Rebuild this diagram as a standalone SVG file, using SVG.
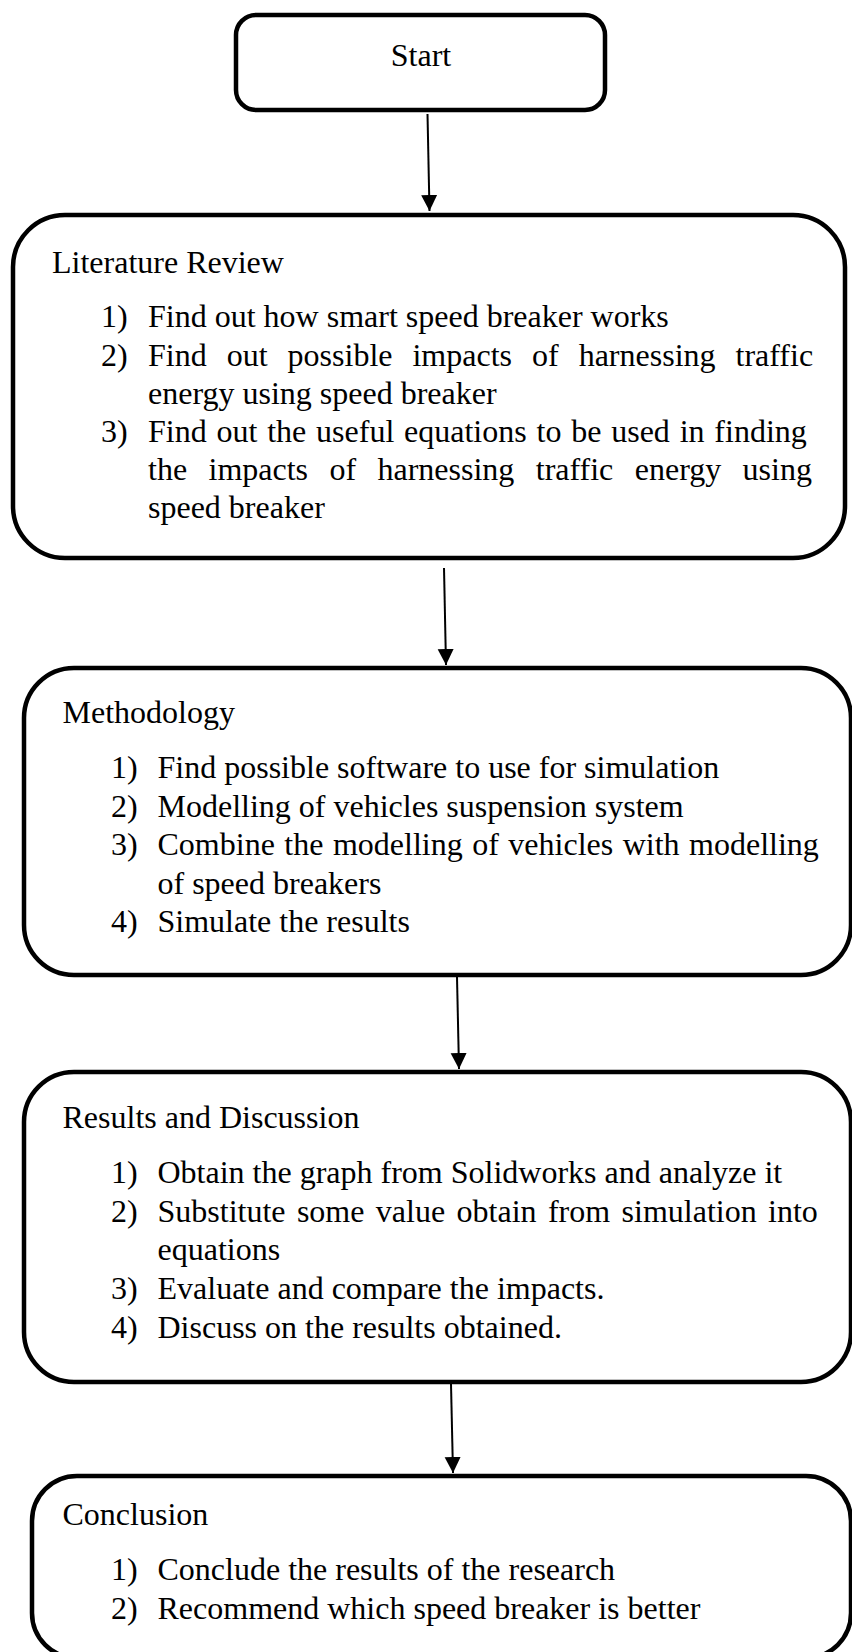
<svg xmlns="http://www.w3.org/2000/svg" width="852" height="1652" viewBox="0 0 852 1652">
<style>
.box{fill:#fff;stroke:#000;stroke-width:4.5}
.t{font-family:"Liberation Serif","Times New Roman",serif;font-size:32px;fill:#000}
.c{stroke:#000;stroke-width:2;fill:none}
</style>
<defs>
<marker id="ah" markerUnits="userSpaceOnUse" markerWidth="20" markerHeight="20" refX="16" refY="8" orient="auto">
<path d="M0,0 L16,8 L0,16 Z" fill="#000"/>
</marker>
</defs>
<rect width="852" height="1652" fill="#fff"/>
<g id="connectors">
<line class="c" x1="427.5" y1="114" x2="429.5" y2="211" marker-end="url(#ah)"/>
<line class="c" x1="444" y1="568" x2="446" y2="665" marker-end="url(#ah)"/>
<line class="c" x1="457" y1="977" x2="459" y2="1069" marker-end="url(#ah)"/>
<line class="c" x1="451" y1="1384" x2="453" y2="1473" marker-end="url(#ah)"/>
</g>
<g id="start">
<rect class="box" x="236" y="15" width="369" height="95" rx="20"/>
<text class="t" x="421" y="65.5" text-anchor="middle">Start</text>
</g>
<g id="literature">
<rect class="box" x="13" y="215" width="832" height="343" rx="52"/>
<text class="t" x="52" y="273">Literature Review</text>
<text class="t" x="101" y="326.5">1)</text>
<text class="t" x="148" y="326.5">Find out how smart speed breaker works</text>
<text class="t" x="101" y="365.5">2)</text>
<text class="t" x="148" y="365.5" word-spacing="12">Find out possible impacts of harnessing traffic</text>
<text class="t" x="148" y="404">energy using speed breaker</text>
<text class="t" x="101" y="442">3)</text>
<text class="t" x="148" y="442" word-spacing="1.8">Find out the useful equations to be used in finding</text>
<text class="t" x="148" y="480" word-spacing="13.4">the impacts of harnessing traffic energy using</text>
<text class="t" x="148" y="518">speed breaker</text>
</g>
<g id="methodology">
<rect class="box" x="24" y="668" width="827" height="307" rx="50"/>
<text class="t" x="62.5" y="723">Methodology</text>
<text class="t" x="111" y="778">1)</text>
<text class="t" x="157.5" y="778">Find possible software to use for simulation</text>
<text class="t" x="111" y="817">2)</text>
<text class="t" x="157.5" y="817">Modelling of vehicles suspension system</text>
<text class="t" x="111" y="855">3)</text>
<text class="t" x="157.5" y="855" word-spacing="1.5">Combine the modelling of vehicles with modelling</text>
<text class="t" x="157.5" y="893.5">of speed breakers</text>
<text class="t" x="111" y="932">4)</text>
<text class="t" x="157.5" y="932">Simulate the results</text>
</g>
<g id="results">
<rect class="box" x="24" y="1072" width="827" height="310" rx="50"/>
<text class="t" x="62.5" y="1128">Results and Discussion</text>
<text class="t" x="111" y="1183">1)</text>
<text class="t" x="157.5" y="1183">Obtain the graph from Solidworks and analyze it</text>
<text class="t" x="111" y="1222">2)</text>
<text class="t" x="157.5" y="1222" word-spacing="3.4">Substitute some value obtain from simulation into</text>
<text class="t" x="157.5" y="1260">equations</text>
<text class="t" x="111" y="1299">3)</text>
<text class="t" x="157.5" y="1299">Evaluate and compare the impacts.</text>
<text class="t" x="111" y="1337.5">4)</text>
<text class="t" x="157.5" y="1337.5">Discuss on the results obtained.</text>
</g>
<g id="conclusion">
<rect class="box" x="32" y="1476" width="819" height="182" rx="45"/>
<text class="t" x="62.5" y="1525">Conclusion</text>
<text class="t" x="111" y="1580">1)</text>
<text class="t" x="157.5" y="1580">Conclude the results of the research</text>
<text class="t" x="111" y="1618.5">2)</text>
<text class="t" x="157.5" y="1618.5">Recommend which speed breaker is better</text>
</g>
</svg>
